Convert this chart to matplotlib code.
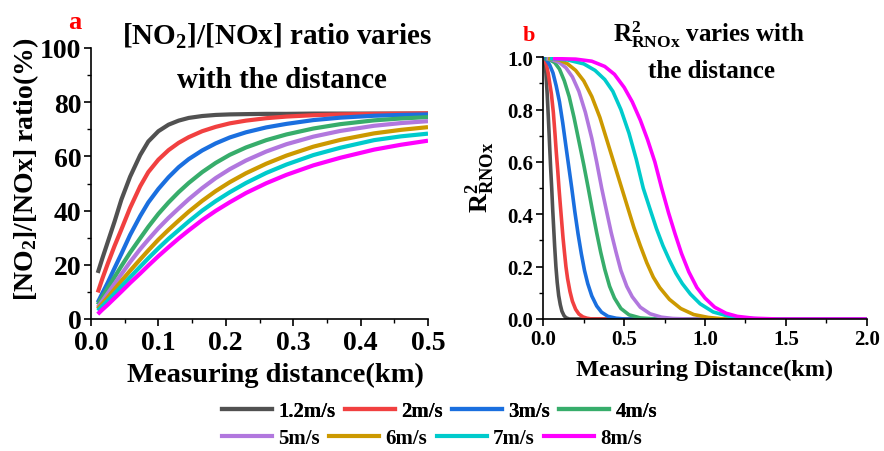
import matplotlib
matplotlib.use('Agg')
import matplotlib.pyplot as plt
from matplotlib.ticker import MultipleLocator
from matplotlib.lines import Line2D

plt.rcParams['font.family'] = 'Liberation Serif'
plt.rcParams['font.weight'] = 'bold'
plt.rcParams['mathtext.fontset'] = 'custom'
plt.rcParams['mathtext.rm'] = 'Liberation Serif:bold'
plt.rcParams['mathtext.bf'] = 'Liberation Serif:bold'
plt.rcParams['mathtext.it'] = 'Liberation Serif:bold:italic'
plt.rcParams['mathtext.default'] = 'rm'

# viento
speeds = ['1.2m/s', '2m/s', '3m/s', '4m/s', '5m/s', '6m/s', '7m/s', '8m/s']
colores = ['#515151', '#F14040', '#1A6FDF', '#37AD6B', '#B177DE', '#CC9900', '#00CBCC', '#FF00FF']

# panel a: ratio NO2/NOx (%)
xa = [0.01, 0.017, 0.025, 0.035, 0.045, 0.058, 0.073, 0.085, 0.1, 0.115, 0.13, 0.145,
      0.165, 0.185, 0.206, 0.23, 0.26, 0.29, 0.33, 0.37, 0.42, 0.46, 0.5]
a_12 = [17, 22.5, 28.5, 36, 44, 52.5, 60.5, 65.5, 69.3, 71.7, 73.2, 74.2,
        74.9, 75.3, 75.5, 75.6, 75.7, 75.7, 75.8, 75.8, 75.8, 75.8, 75.8]
a_2 = [9.8, 15, 20.5, 27, 33, 41, 49, 54.2, 58.8, 62.3, 65, 67.1,
       69.3, 70.9, 72.2, 73.2, 74.1, 74.7, 75.2, 75.5, 75.7, 75.8, 75.9]
a_3 = [6.1, 9.6, 13.5, 18.8, 24, 31, 38, 43, 48, 52.3, 56, 59,
       62.2, 64.8, 67, 68.9, 70.7, 72, 73.4, 74.3, 75, 75.3, 75.5]
a_4 = [5.3, 8.2, 11.5, 15.5, 19.5, 24.5, 29.8, 34, 38.8, 43, 46.8, 50.2,
       54.2, 57.6, 60.6, 63.3, 66, 68.1, 70.3, 71.9, 73.3, 74, 74.5]
a_5 = [4.3, 6.7, 9.5, 13, 16.5, 21, 25.8, 29.3, 33.5, 37.3, 40.8, 44.2,
       48.3, 52, 55.3, 58.5, 61.8, 64.5, 67.3, 69.4, 71.3, 72.3, 73]
a_6 = [3.7, 5.7, 8, 11, 14, 17.8, 22, 25.3, 29.3, 32.9, 36.3, 39.6,
       43.6, 47.2, 50.5, 53.8, 57.3, 60.3, 63.6, 66.1, 68.5, 69.8, 70.8]
a_7 = [3.1, 4.8, 6.8, 9.4, 12, 15.4, 19.3, 22.4, 26.1, 29.6, 32.8, 36,
       40, 43.5, 46.8, 50.2, 53.9, 57, 60.5, 63.2, 66, 67.4, 68.4]
a_8 = [1.8, 3.5, 5.3, 7.7, 10.1, 13.3, 16.8, 19.7, 23.2, 26.5, 29.7, 32.7,
       36.5, 39.9, 43.1, 46.5, 50.1, 53.2, 56.7, 59.5, 62.5, 64.3, 65.8]
curvas_a = [a_12, a_2, a_3, a_4, a_5, a_6, a_7, a_8]

# panel b: R2 RNOx
b_12_x = [0, 0.008, 0.016, 0.024, 0.032, 0.04, 0.046, 0.052, 0.058, 0.064, 0.07, 0.078,
          0.086, 0.095, 0.105, 0.115, 0.128, 0.14, 0.16, 2.0]
b_12_y = [1.0, 0.985, 0.94, 0.86, 0.76, 0.65, 0.57, 0.5, 0.42, 0.35, 0.28, 0.2,
          0.14, 0.09, 0.055, 0.03, 0.013, 0.005, 0.0, 0.0]
b_2_x = [0, 0.01, 0.02, 0.03, 0.04, 0.05, 0.062, 0.072, 0.08, 0.089, 0.097, 0.106, 0.114,
         0.122, 0.13, 0.14, 0.15, 0.165, 0.18, 0.2, 0.22, 0.245, 0.27, 0.3, 2.0]
b_2_y = [1.0, 0.99, 0.97, 0.94, 0.9, 0.86, 0.79, 0.71, 0.64, 0.57, 0.5, 0.43, 0.37,
         0.31, 0.26, 0.2, 0.155, 0.105, 0.068, 0.037, 0.019, 0.008, 0.003, 0.0, 0.0]
b_3_x = [0, 0.02, 0.04, 0.06, 0.08, 0.1, 0.12, 0.14, 0.158, 0.176, 0.195, 0.215, 0.235,
         0.255, 0.275, 0.3, 0.33, 0.36, 0.4, 0.45, 0.5, 2.0]
b_3_y = [1.0, 0.99, 0.97, 0.94, 0.89, 0.83, 0.75, 0.66, 0.58, 0.5, 0.41, 0.325, 0.25,
         0.185, 0.135, 0.088, 0.05, 0.026, 0.01, 0.003, 0.0, 0.0]
b_4_x = [0.01, 0.04, 0.07, 0.1, 0.13, 0.16, 0.19, 0.22, 0.25, 0.278, 0.305, 0.33, 0.355,
         0.38, 0.41, 0.44, 0.48, 0.53, 0.6, 0.7, 2.0]
b_4_y = [0.995, 0.99, 0.98, 0.955, 0.91, 0.85, 0.77, 0.68, 0.59, 0.5, 0.41, 0.33, 0.255,
         0.19, 0.125, 0.08, 0.04, 0.016, 0.004, 0.0, 0.0]
b_5_x = [0.02, 0.06, 0.1, 0.14, 0.18, 0.22, 0.26, 0.3, 0.33, 0.361, 0.392, 0.42, 0.45,
         0.48, 0.516, 0.55, 0.6, 0.66, 0.73, 0.8, 0.9, 2.0]
b_5_y = [0.995, 0.99, 0.98, 0.96, 0.925, 0.87, 0.79, 0.69, 0.6, 0.5, 0.41, 0.33, 0.255,
         0.185, 0.125, 0.085, 0.045, 0.02, 0.007, 0.002, 0.0, 0.0]
b_6_x = [0.03, 0.1, 0.15, 0.2, 0.25, 0.3, 0.35, 0.4, 0.44, 0.485, 0.52, 0.56, 0.6,
         0.64, 0.68, 0.72, 0.78, 0.85, 0.93, 1.02, 1.12, 2.0]
b_6_y = [0.995, 0.99, 0.975, 0.95, 0.91, 0.85, 0.77, 0.67, 0.59, 0.5, 0.43, 0.35, 0.28,
         0.215, 0.16, 0.12, 0.075, 0.04, 0.017, 0.006, 0.0, 0.0]
b_7_x = [0.04, 0.15, 0.25, 0.32, 0.38, 0.43, 0.48, 0.53, 0.575, 0.618, 0.66, 0.7, 0.74,
         0.78, 0.82, 0.86, 0.91, 0.97, 1.05, 1.15, 1.25, 1.35, 2.0]
b_7_y = [0.995, 0.99, 0.975, 0.95, 0.915, 0.87, 0.8, 0.71, 0.61, 0.5, 0.42, 0.345, 0.28,
         0.225, 0.175, 0.135, 0.095, 0.058, 0.027, 0.01, 0.003, 0.0, 0.0]
b_8_x = [0.06, 0.2, 0.3, 0.38, 0.44, 0.5, 0.55, 0.6, 0.645, 0.69, 0.732, 0.775, 0.815,
         0.855, 0.9, 0.95, 1.0, 1.06, 1.13, 1.2, 1.3, 1.45, 2.0]
b_8_y = [0.995, 0.993, 0.985, 0.965, 0.935, 0.885, 0.83, 0.76, 0.685, 0.6, 0.5, 0.405, 0.325,
         0.25, 0.18, 0.12, 0.08, 0.045, 0.022, 0.01, 0.003, 0.0, 0.0]
curvas_b = [(b_12_x, b_12_y), (b_2_x, b_2_y), (b_3_x, b_3_y), (b_4_x, b_4_y),
            (b_5_x, b_5_y), (b_6_x, b_6_y), (b_7_x, b_7_y), (b_8_x, b_8_y)]

fig = plt.figure(figsize=(8.84, 4.52), dpi=100)
W, H = 884, 452


def caja(x0, y0, x1, y1):
    # pixeles -> fraccion de figura
    return [x0 / W, 1 - y1 / H, (x1 - x0) / W, (y1 - y0) / H]


def estilo(ax):
    for s in ['top', 'right']:
        ax.spines[s].set_visible(False)
    for s in ['left', 'bottom']:
        ax.spines[s].set_linewidth(1.2)
    ax.tick_params(which='major', direction='out', length=5, width=1.2)
    ax.tick_params(which='minor', direction='out', length=3, width=1.0)


ax1 = fig.add_axes(caja(91, 49, 428, 320))
for y, c in zip(curvas_a, colores):
    ax1.plot(xa, y, color=c, lw=3, solid_capstyle='butt', solid_joinstyle='round')
ax1.set_xlim(0, 0.5)
ax1.set_ylim(0, 100)
ax1.xaxis.set_major_locator(MultipleLocator(0.1))
ax1.xaxis.set_minor_locator(MultipleLocator(0.05))
ax1.yaxis.set_major_locator(MultipleLocator(20))
ax1.yaxis.set_minor_locator(MultipleLocator(10))
estilo(ax1)
ax1.tick_params(labelsize=20)
ax1.tick_params(axis='x', pad=3)
ax1.tick_params(axis='y', pad=2)

ax2 = fig.add_axes(caja(543.3, 58.3, 866.7, 320))
for (x, y), c in zip(curvas_b, colores):
    ax2.plot(x, y, color=c, lw=2.6, solid_capstyle='butt', solid_joinstyle='round')
ax2.set_xlim(0, 2.0)
ax2.set_ylim(0, 1.0)
ax2.xaxis.set_major_locator(MultipleLocator(0.5))
ax2.xaxis.set_minor_locator(MultipleLocator(0.25))
ax2.yaxis.set_major_locator(MultipleLocator(0.2))
ax2.yaxis.set_minor_locator(MultipleLocator(0.1))
estilo(ax2)
ax2.tick_params(labelsize=15, pad=2)

# textos
fig.text(75 / W, 1 - 29 / H, 'a', color='red', fontsize=19, ha='center', va='baseline')
fig.text(529 / W, 1 - 41 / H, 'b', color='red', fontsize=16, ha='center', va='baseline')
fig.text(277.5 / W, 1 - 45 / H, '[NO$_2$]/[NOx] ratio varies', fontsize=21, ha='center', va='baseline')
fig.text(281.5 / W, 1 - 88 / H, 'with the distance', fontsize=21, ha='center', va='baseline')
fig.text(709 / W, 1 - 42 / H, 'R$^2_{RNOx}$ varies with', fontsize=18, ha='center', va='baseline')
fig.text(712 / W, 1 - 78 / H, 'the distance', fontsize=18, ha='center', va='baseline')
fig.text(275 / W, 1 - 382 / H, 'Measuring distance(km)', fontsize=20.5, ha='center', va='baseline')
fig.text(705 / W, 1 - 376 / H, 'Measuring Distance(km)', fontsize=17.5, ha='center', va='baseline')
fig.text(26 / W, 1 - 169 / H, '[NO$_2$]/[NOx] ratio(%)', fontsize=20, rotation=90, ha='center', va='center')
fig.text(480 / W, 1 - 177 / H, 'R$^2_{RNOx}$', fontsize=19, rotation=90, ha='center', va='center')

# leyenda en dos filas
manijas = [Line2D([], [], color=c, lw=3) for c in colores]
kw = dict(ncol=4, frameon=False, fontsize=15, handlelength=2.4, handletextpad=0.3,
          columnspacing=0.45, borderpad=0, borderaxespad=0, loc='upper left')
fila1 = fig.legend(manijas[:4], speeds[:4], bbox_to_anchor=(222 / W, 1 - 402 / H), **kw)
fig.legend(manijas[4:], speeds[4:], bbox_to_anchor=(222 / W, 1 - 429 / H), **kw)
fig.add_artist(fila1)

fig.savefig('out.png', dpi=100)
